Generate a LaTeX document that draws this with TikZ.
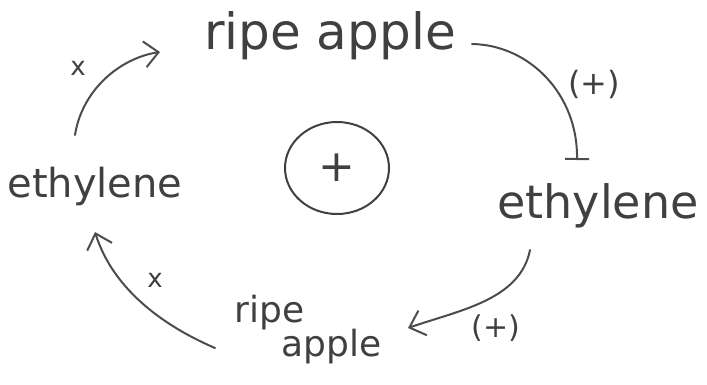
\documentclass[tikz,border=0pt]{standalone}
\usepackage{fontspec}
\setmainfont{DejaVu Sans}
\usetikzlibrary{arrows.meta,shapes.geometric}
\begin{document}
\begin{tikzpicture}[x=1pt,y=-1pt,
  lbl/.style={font=\fontsize{40}{44}\selectfont, text=black!75, inner sep=0pt},
  small/.style={font=\fontsize{26}{30}\selectfont, text=black!75, inner sep=0pt},
  conn/.style={draw=black!70, line width=2pt, line cap=round},
  barb/.style={-{Straight Barb[length=14pt,width=26pt,line width=2pt]}},
  inhib/.style={-{Bar[width=24pt,line width=2pt]}}]
\useasboundingbox (0,0) rectangle (707,384);
\node[lbl, font=\fontsize{50}{54}\selectfont] (top) at (330,36) {ripe apple};
\node[lbl, font=\fontsize{40}{44}\selectfont] (left) at (95,186) {ethylene};
\node[lbl, font=\fontsize{46}{50}\selectfont] (right) at (598,206) {ethylene};
\node[lbl, align=left, font=\fontsize{36}{40}\selectfont] (bottom) at (308,330) {ripe\\[-6pt]\hspace*{1.3em}apple};
\node[ellipse, draw=black!75, line width=2pt, minimum width=104pt, minimum height=92pt, font=\fontsize{44}{48}\selectfont, text=black!75] (plus) at (337,168) {+};
\coordinate (a1s) at (75,135);
\coordinate (a1e) at (160,52);
\coordinate (a2s) at (472,44);
\coordinate (a2e) at (577,160);
\coordinate (a3s) at (530,250);
\coordinate (a3e) at (408,328);
\coordinate (a4s) at (215,348);
\coordinate (a4e) at (95,232);
\draw[conn,barb] (a1s) .. controls (82,90) and (120,58) .. (a1e);
\draw[conn,inhib] (a2s) .. controls (530,45) and (578,95) .. (a2e);
\draw[conn,barb] (a3s) .. controls (520,300) and (460,310) .. (a3e);
\draw[conn,barb] (a4s) .. controls (150,320) and (110,280) .. (a4e);
\node[small] (x1) at (78,68) {x};
\node[small] (x2) at (155,280) {x};
\node[small, font=\fontsize{32}{36}\selectfont] (p1) at (594,84) {(+)};
\node[small, font=\fontsize{30}{34}\selectfont] (p2) at (496,328) {(+)};
\end{tikzpicture}
\end{document}
